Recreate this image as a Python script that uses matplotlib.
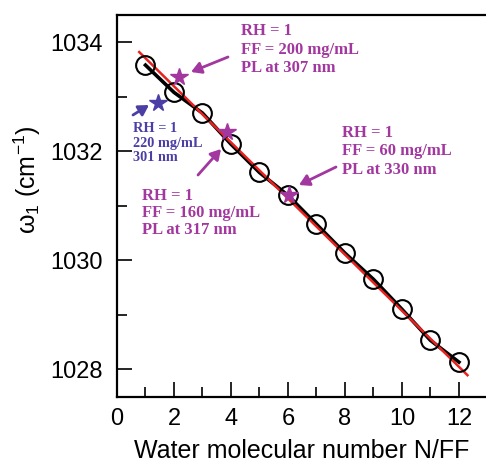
import matplotlib
matplotlib.use("Agg")
import matplotlib.pyplot as plt
import numpy as np

plt.rcParams['mathtext.fontset'] = 'custom'
plt.rcParams['mathtext.rm'] = 'Liberation Sans'
plt.rcParams['mathtext.it'] = 'Liberation Sans:italic'
plt.rcParams['mathtext.bf'] = 'Liberation Sans:bold'

# Data
n_ff = [1, 2, 3, 4, 5, 6, 7, 8, 9, 10, 11, 12]
omega1 = [1033.58, 1033.08, 1032.70, 1032.13, 1031.61, 1031.19,
          1030.66, 1030.13, 1029.65, 1029.10, 1028.53, 1028.13]
fit_x = [0.78, 12.3]
fit_y = [1033.82, 1027.89]
mag_star_x = [2.18, 3.86, 6.03]
mag_star_y = [1033.36, 1032.35, 1031.20]
blue_star_x = [1.44]
blue_star_y = [1032.88]
xticks = [0, 2, 4, 6, 8, 10, 12]
yticks = [1028, 1030, 1032, 1034]

MAG = "#a2379f"
BLUE = "#4b3fa6"
SANS = ['Liberation Sans', 'DejaVu Sans']

fig = plt.figure(figsize=(4.86, 4.62), dpi=100)
ax = fig.add_axes([117/486, 65/462, 1 - 117/486, (397-15)/462])

ax.plot(n_ff, omega1, color="black", lw=2.6, zorder=2)
ax.plot(fit_x, fit_y, color="#e8231f", lw=1.8, zorder=3)
ax.plot(n_ff, omega1, 'o', ms=13.5, mfc='none', mec='black', mew=1.5, zorder=4)
ax.plot(mag_star_x, mag_star_y, '*', ms=13, color=MAG, mec=MAG, zorder=5)
ax.plot(blue_star_x, blue_star_y, '*', ms=13, color=BLUE, mec=BLUE, zorder=5)

ax.set_xlim(0, 12.95)
ax.set_ylim(1027.49, 1034.50)
ax.set_xticks(xticks)
ax.set_yticks(yticks)
ax.set_xticks(np.arange(1, 13, 2), minor=True)
ax.set_yticks([1029, 1031, 1033], minor=True)
ax.tick_params(which='major', direction='in', length=11, width=1.2, labelsize=17, pad=10)
ax.tick_params(which='minor', direction='in', length=7, width=1.2)
ax.tick_params(axis='x', which='major', pad=8)
for lab in ax.get_xticklabels() + ax.get_yticklabels():
    lab.set_family(SANS)
ax.spines['right'].set_visible(False)
for s in ['left', 'top', 'bottom']:
    ax.spines[s].set_linewidth(1.6)

def px(x, y):
    # figure pixel (from top-left) to figure fraction
    return (x / 486, 1 - y / 462)

fig.text(*px(302, 458), "Water molecular number N/FF", fontsize=18,
         family=SANS, ha='center', va='baseline')
fig.text(*px(27, 180), r"ω$_\mathregular{1}$ (cm$^\mathregular{-1}$)", fontsize=18,
         family=SANS, ha='center', va='center', rotation=90)

tfont = dict(family=['Liberation Serif', 'DejaVu Serif'], weight='bold')

fig.text(*px(241, 23), "RH = 1\nFF = 200 mg/mL\nPL at 307 nm", color=MAG,
         fontsize=12, va='top', ha='left', linespacing=1.22, **tfont)
fig.text(*px(133, 122), "RH = 1\n220 mg/mL\n301 nm", color=BLUE,
         fontsize=10.3, va='top', ha='left', linespacing=1.15, **tfont)
fig.text(*px(142, 188), "RH = 1\nFF = 160 mg/mL\nPL at 317 nm", color=MAG,
         fontsize=12, va='top', ha='left', linespacing=1.1, **tfont)
fig.text(*px(342, 125), "RH = 1\nFF = 60 mg/mL\nPL at 330 nm", color=MAG,
         fontsize=12, va='top', ha='left', linespacing=1.2, **tfont)

def arrow(x0, y0, x1, y1, color):
    fig.add_artist(matplotlib.patches.FancyArrowPatch(
        px(x0, y0), px(x1, y1), transform=fig.transFigure,
        arrowstyle='-|>,head_length=6,head_width=3.5', color=color, lw=2,
        mutation_scale=1, shrinkA=0, shrinkB=0, zorder=6))

arrow(228, 57, 191, 72, MAG)
arrow(133, 115, 149, 105, BLUE)
arrow(198, 175, 221, 149, MAG)
arrow(336, 167, 299, 185, MAG)

fig.savefig("out.png", dpi=100, facecolor='white')
